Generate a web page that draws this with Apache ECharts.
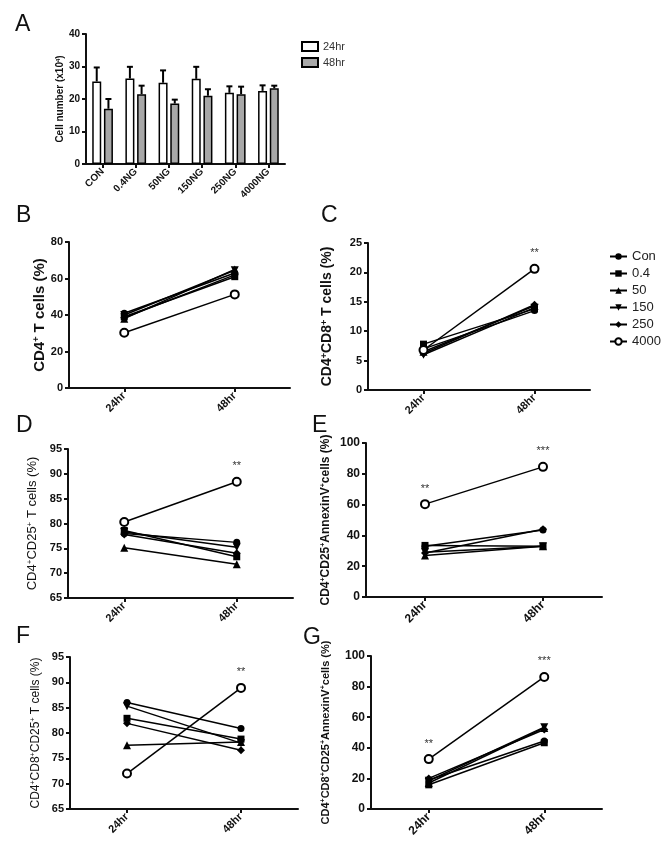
<!DOCTYPE html>
<html><head><meta charset="utf-8">
<script src="https://cdn.jsdelivr.net/npm/echarts@6/dist/echarts.min.js"></script>
<style>html,body{margin:0;padding:0;background:#fff}#c{width:667px;height:849px}</style>
</head><body><div id="c"></div>
<script>
const FONT = "'Liberation Sans', Arial, sans-serif";

// ---------- Panel A : cell number ----------
const groupsA = ['CON', '0.4NG', '50NG', '150NG', '250NG', '4000NG'];
const mean24 = [25.4, 26.3, 25.0, 26.2, 21.9, 22.5];
const err24  = [4.3, 3.6, 3.8, 3.7, 2.0, 1.7];
const mean48 = [17.0, 21.5, 18.6, 21.0, 21.5, 23.3];
const err48  = [3.0, 2.6, 1.2, 2.0, 2.3, 0.8];
const barNames = ['24hr', '48hr'];

// ---------- Panels B-G : doses, values at 24hr / 48hr (dose order: Con,0.4,50,150,250,4000) ----------
const times = ['24hr', '48hr'];
const doses = ['Con', '0.4', '50', '150', '250', '4000'];
const B24 = [41, 39, 38, 40, 38.5, 30.3];
const B48 = [63, 61, 65, 64.5, 62, 51.3];
const C24 = [7.0, 7.8, 6.5, 6.0, 6.2, 6.8];
const C48 = [13.5, 13.8, 14.3, 14.0, 14.5, 20.6];
const D24 = [78.0, 78.6, 75.1, 78.3, 77.8, 80.3];
const D48 = [76.2, 73.3, 71.8, 75.2, 74.0, 88.4];
const E24 = [33.0, 33.5, 27.0, 29.0, 28.5, 60.3];
const E48 = [43.5, 33.0, 33.0, 33.0, 44.0, 84.5];
const F24 = [86.0, 82.9, 77.6, 85.3, 81.9, 72.0];
const F48 = [80.9, 78.8, 78.2, 78.0, 76.6, 88.9];
const G24 = [19.0, 15.8, 17.0, 18.5, 20.0, 32.6];
const G48 = [44.5, 43.3, 53.0, 53.5, 52.0, 86.3];
// significance marks on the 4000 group
const sigB = ['', ''];
const sigC = ['', '**'];
const sigD = ['', '**'];
const sigE = ['**', '***'];
const sigF = ['', '**'];
const sigG = ['**', '***'];

function rich(str) {
  // '^' marks a superscript char
  let out = '', buf = '';
  for (let i = 0; i < str.length; i++) {
    if (str[i] === '^') {
      if (buf) out += '{n|' + buf + '}';
      buf = '';
      out += '{s|' + str[i + 1] + '}';
      i++;
    } else buf += str[i];
  }
  if (buf) out += '{n|' + buf + '}';
  return out;
}

const grids = [], xAxes = [], yAxes = [], series = [];

function axisBase() {
  return {
    axisLine: { show: true, lineStyle: { color: '#111', width: 2 } },
    axisTick: { show: true, length: 4, lineStyle: { color: '#111', width: 2 } },
    splitLine: { show: false }
  };
}

function addAxes(grid, cats, yMin, yMax, yInt, yName, nameFont, nameWeight, nameGap, labelSize) {
  const gi = grids.length;
  grids.push(Object.assign({ containLabel: false }, grid));
  xAxes.push(Object.assign(axisBase(), {
    type: 'category', gridIndex: gi, data: cats,
    axisTick: { show: true, alignWithLabel: true, length: 4, lineStyle: { color: '#111', width: 2 } },
    axisLabel: { rotate: 45, fontSize: labelSize, fontWeight: 'bold', color: '#111', margin: 6, fontFamily: FONT, interval: 0 }
  }));
  yAxes.push(Object.assign(axisBase(), {
    type: 'value', gridIndex: gi, min: yMin, max: yMax, interval: yInt,
    name: rich(yName), nameLocation: 'middle', nameRotate: 90, nameGap: nameGap,
    nameTextStyle: {
      rich: {
        n: { fontSize: nameFont, fontWeight: nameWeight, color: '#111', fontFamily: FONT },
        s: { fontSize: Math.round(nameFont * 0.62), fontWeight: nameWeight, color: '#111', fontFamily: FONT, verticalAlign: 'top' }
      }
    },
    axisLabel: { fontSize: labelSize, fontWeight: 'bold', color: '#111', margin: 6, fontFamily: FONT }
  }));
  return gi;
}

// Panel A
const gA = addAxes({ left: 86, top: 34, width: 199, height: 130 }, groupsA, 0, 40, 10,
  'Cell number (x10^4)', 10, 'bold', 19, 10);
const barW = 9, barGapRatio = 0.3;
const barOff = barW * (1 + barGapRatio) / 2;
series.push({
  type: 'bar', name: barNames[0], xAxisIndex: gA, yAxisIndex: gA, data: mean24,
  barWidth: barW, barGap: '30%',
  itemStyle: { color: '#ffffff', borderColor: '#000', borderWidth: 1.5 }
});
series.push({
  type: 'bar', name: barNames[1], xAxisIndex: gA, yAxisIndex: gA, data: mean48,
  barWidth: barW, barGap: '30%',
  itemStyle: { color: '#a8a8a8', borderColor: '#000', borderWidth: 1.5 }
});
function errSeries(means, errs, off) {
  return {
    type: 'custom', xAxisIndex: gA, yAxisIndex: gA, z: 5, silent: true,
    data: means.map((m, i) => [i, m, errs[i]]),
    encode: { x: 0, y: 1 },
    renderItem: function (params, api) {
      const i = api.value(0), m = api.value(1), e = api.value(2);
      const p0 = api.coord([i, m]);
      const p1 = api.coord([i, m + e]);
      const x = p0[0] + off;
      return {
        type: 'group', children: [
          { type: 'line', shape: { x1: x, y1: p0[1], x2: x, y2: p1[1] }, style: { stroke: '#000', lineWidth: 2 } },
          { type: 'line', shape: { x1: x - 3, y1: p1[1], x2: x + 3, y2: p1[1] }, style: { stroke: '#000', lineWidth: 2 } }
        ]
      };
    }
  };
}
series.push(errSeries(mean24, err24, -barOff));
series.push(errSeries(mean48, err48, barOff));

// symbols per dose
const symDefs = [
  { symbol: 'circle', size: 7, rot: 0, fill: '#000' },
  { symbol: 'rect', size: 7, rot: 0, fill: '#000' },
  { symbol: 'triangle', size: 8, rot: 0, fill: '#000' },
  { symbol: 'triangle', size: 8, rot: 180, fill: '#000' },
  { symbol: 'diamond', size: 8, rot: 0, fill: '#000' },
  { symbol: 'circle', size: 8, rot: 0, fill: '#fff' }
];

function addLinePanel(grid, v24, v48, sig, yMin, yMax, yInt, yName, nameFont, nameWeight, nameGap, labelSize) {
  const gi = addAxes(grid, times, yMin, yMax, yInt, yName, nameFont, nameWeight, nameGap, labelSize);
  doses.forEach((d, k) => {
    const s = symDefs[k];
    const vals = [v24[k], v48[k]];
    const data = vals.map((v, t) => {
      if (k === doses.length - 1 && sig[t]) {
        return { value: v, label: { show: true, formatter: sig[t], position: 'top', distance: 5, fontSize: 11, color: '#333', fontFamily: FONT } };
      }
      return v;
    });
    series.push({
      type: 'line', name: d, xAxisIndex: gi, yAxisIndex: gi, data: data,
      symbol: s.symbol, symbolSize: s.size, symbolRotate: s.rot, showAllSymbol: true,
      lineStyle: { color: '#000', width: 1.5 },
      itemStyle: { color: s.fill, borderColor: '#000', borderWidth: s.fill === '#fff' ? 2 : 0 },
      emphasis: { disabled: true }, animation: false, z: k === doses.length - 1 ? 4 : 3
    });
  });
}

addLinePanel({ left: 69, top: 242, width: 221, height: 146 }, B24, B48, sigB, 0, 80, 20,
  'CD4^+ T cells (%)', 15, 'bold', 22, 11);
addLinePanel({ left: 368, top: 243, width: 222, height: 147 }, C24, C48, sigC, 0, 25, 5,
  'CD4^+CD8^+ T cells (%)', 14, 'bold', 34, 11);
addLinePanel({ left: 68, top: 449, width: 225, height: 149 }, D24, D48, sigD, 65, 95, 5,
  'CD4^+CD25^+ T cells (%)', 13, 'normal', 29, 11);
addLinePanel({ left: 366, top: 443, width: 236, height: 154 }, E24, E48, sigE, 0, 100, 20,
  'CD4^+CD25^+AnnexinV^+cells (%)', 12, 'bold', 34, 12);
addLinePanel({ left: 70, top: 657, width: 228, height: 152 }, F24, F48, sigF, 65, 95, 5,
  'CD4^+CD8^+CD25^+ T cells (%)', 12, 'normal', 28, 11);
addLinePanel({ left: 371, top: 656, width: 231, height: 153 }, G24, G48, sigG, 0, 100, 20,
  'CD4^+CD8^+CD25^+AnnexinV^+cells (%)', 11, 'bold', 40, 12);

const letters = [['A', 15, 13], ['B', 16, 204], ['C', 321, 204], ['D', 16, 414], ['E', 312, 414], ['F', 16, 625], ['G', 303, 626]];

const option = {
  animation: false,
  backgroundColor: '#fff',
  textStyle: { fontFamily: FONT },
  grid: grids, xAxis: xAxes, yAxis: yAxes, series: series,
  legend: [
    {
      data: barNames, orient: 'vertical', left: 296, top: 36, itemWidth: 16, itemHeight: 9, itemGap: 5,
      icon: 'rect', selectedMode: false,
      textStyle: { fontSize: 11, color: '#333', fontFamily: FONT }
    },
    {
      data: doses, orient: 'vertical', left: 604, top: 245, itemWidth: 17, itemHeight: 8, itemGap: 4,
      selectedMode: false,
      textStyle: { fontSize: 13, color: '#222', fontFamily: FONT }
    }
  ],
  graphic: letters.map(l => ({
    type: 'text', left: l[1], top: l[2],
    style: { text: l[0], fontSize: 23, fontFamily: FONT, fill: '#111' }
  }))
};
const chart = echarts.init(document.getElementById('c'));
chart.setOption(option);
</script>
</body></html>
